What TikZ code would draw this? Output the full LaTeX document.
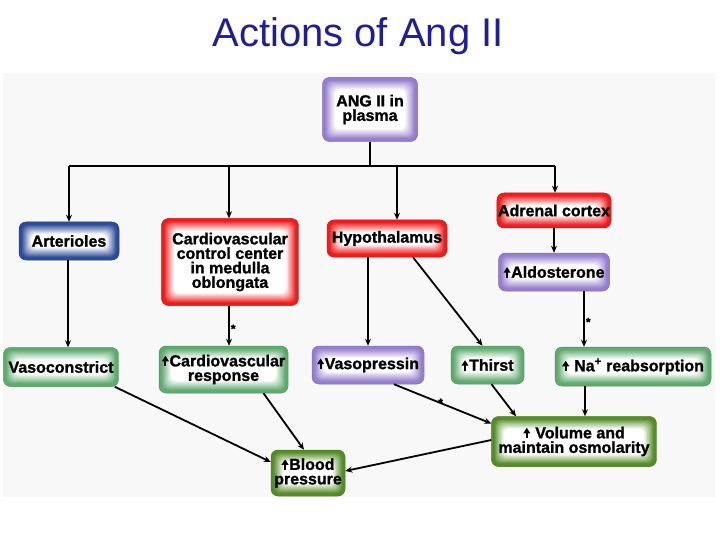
\documentclass[tikz,border=0pt]{standalone}
\usepackage{fontspec}
\setmainfont{Liberation Sans}[BoldFeatures={FakeBold=1.2}]
\usetikzlibrary{arrows.meta}
\definecolor{titleblue}{RGB}{30,30,150}
\definecolor{panel}{RGB}{248,248,248}
\definecolor{pur}{RGB}{150,125,205}
\definecolor{redc}{RGB}{238,28,28}
\definecolor{bluc}{RGB}{45,75,150}
\definecolor{grn}{RGB}{95,170,110}
\definecolor{dgrn}{RGB}{85,140,40}
\newcommand\uparr{\tikz[x=1pt,y=1pt,baseline=0pt,sharp corners]{\fill[black,sharp corners] (-1,0) rectangle (1,6); \fill[black,sharp corners] (-3.6,5) -- (0,10.5) -- (3.6,5) -- cycle;}\kern0.5pt}
\newcommand\glowlayers[1]{%
  \foreach \i in {0,...,12}{%
    \pgfmathtruncatemacro\p{min(100,max(0,120-\i*11))}%
    \fill[#1!\p!white, rounded corners=6pt]
      ([shift={(\i*1.1pt,-\i*1.1pt)}]path picture bounding box.north west)
      rectangle ([shift={(-\i*1.1pt,\i*1.1pt)}]path picture bounding box.south east);
  }}
\tikzset{
  box/.style={rounded corners=7pt, draw=#1!85!black, line width=0.5pt,
    font=\bfseries\fontsize{16}{14.5}\selectfont, align=center, inner sep=1pt,
    path picture={\glowlayers{#1}}},
  conn/.style={line width=1.8pt, -{Stealth[length=7pt,width=6pt]}},
  star/.style={font=\bfseries\fontsize{12}{12}\selectfont, inner sep=1pt}
}
\begin{document}
\begin{tikzpicture}[x=1pt,y=-1pt]
\useasboundingbox (0,0) rectangle (720,540);
\fill[panel] (3,73) rectangle (715,497);
\node[font=\fontsize{40}{42}\selectfont, text=titleblue] (title) at (358,36) {Actions of Ang II};

\node[box=pur, minimum width=95pt, minimum height=64pt] (ang) at (370,109.5) {ANG II in\\plasma};
\node[box=bluc, minimum width=100pt, minimum height=38pt] (art) at (69,241) {Arterioles};
\node[box=redc, minimum width=137pt, minimum height=87pt] (cvc) at (230,262) {Cardiovascular\\control center\\in medulla\\oblongata};
\node[box=redc, minimum width=120pt, minimum height=37pt] (hyp) at (387,238.5) {Hypothalamus};
\node[box=redc, minimum width=112pt, minimum height=35pt] (adr) at (554,210.5) {Adrenal cortex};
\node[box=pur, minimum width=111pt, minimum height=38pt] (ald) at (554,272) {\uparr Aldosterone};
\node[box=grn, minimum width=115pt, minimum height=39pt] (vaso) at (61,367) {Vasoconstrict};
\node[box=grn, minimum width=129pt, minimum height=47pt] (cvr) at (223.5,369.5) {\uparr Cardiovascular\\response};
\node[box=pur, minimum width=112pt, minimum height=38pt] (vp) at (368,365) {\uparr Vasopressin};
\node[box=grn, minimum width=73pt, minimum height=38pt] (thirst) at (487.5,365) {\uparr Thirst};
\node[box=grn, minimum width=156pt, minimum height=39pt] (na) at (633,366.5) {\uparr\ Na\textsuperscript{+} reabsorption};
\node[box=dgrn, minimum width=165pt, minimum height=50pt] (vol) at (574,441.5) {\uparr\ Volume and\\maintain osmolarity};
\node[box=dgrn, minimum width=74pt, minimum height=46pt] (bp) at (308,473) {\uparr Blood\\pressure};

% bus from ANG II
\coordinate (b1) at (69,166);
\coordinate (b2) at (229,166);
\coordinate (b3) at (397,166);
\coordinate (b4) at (555,166);
\draw[line width=2.2pt] (ang.south) -- (ang.south |- b1);
\draw[line width=2.2pt] (b1) -- (b4);
\draw[conn] (b1) -- (art.north);
\draw[conn] (b2) -- (b2 |- cvc.north);
\draw[conn] (b3) -- (b3 |- hyp.north);
\draw[conn] (b4) -- (b4 |- adr.north);

\draw[conn] ([xshift=-1pt]art.south) -- ([xshift=-1pt]art.south |- vaso.north);
\draw[conn] ([xshift=-1pt]cvc.south) -- ([xshift=-1pt]cvc.south |- cvr.north) node[star, midway, right, yshift=-3pt] {*};
\draw[conn] (vp.north |- hyp.south) -- (vp.north);
\draw[conn] ([xshift=26pt]hyp.south) -- ([xshift=-5pt]thirst.north);
\draw[conn] (adr.south) -- (ald.north);
\draw[conn] ([xshift=30pt]ald.south) -- ([xshift=30pt]ald.south |- na.north) node[star, midway, right, yshift=-3pt] {*};

\draw[conn] ([xshift=-4pt]vaso.south east) -- ([yshift=11pt]bp.west);
\draw[conn] ([xshift=40pt]cvr.south) -- ([xshift=-4pt]bp.north);
\draw[conn] ([xshift=26pt]vp.south) -- ([yshift=18pt]vol.west) node[star, pos=0.5, above, xshift=-2pt, yshift=-5pt] {*};
\draw[conn] ([xshift=4pt]thirst.south) -- ([xshift=-58pt]vol.north);
\draw[conn] ([xshift=-48pt]na.south) -- ([xshift=-48pt]na.south |- vol.north);
\draw[conn] ([yshift=1.5pt]vol.west) -- ([yshift=2pt]bp.east);
\end{tikzpicture}
\end{document}
